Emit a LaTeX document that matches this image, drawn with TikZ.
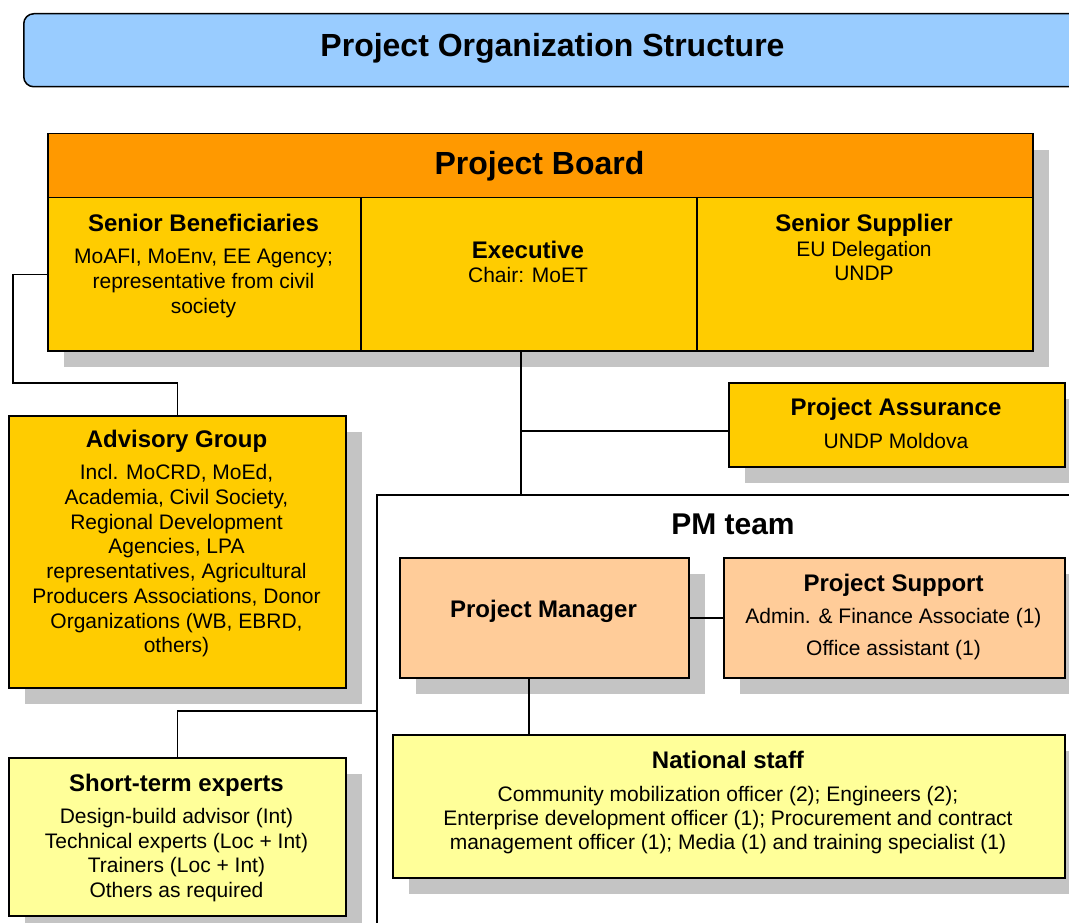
\documentclass[tikz,border=0pt]{standalone}
\usepackage{fontspec}
\setmainfont{Liberation Sans}
\usetikzlibrary{shadows}

\definecolor{titleblue}{HTML}{99CCFF}
\definecolor{boardorange}{HTML}{FF9900}
\definecolor{gold}{HTML}{FFCC00}
\definecolor{peach}{HTML}{FFCC99}
\definecolor{paleyellow}{HTML}{FFFF99}
\definecolor{shadowgray}{HTML}{C4C4C4}

\tikzset{
  box/.style={draw, line width=1.5pt, inner sep=0pt, anchor=north west},
  shadowed/.style={drop shadow={shadow xshift=16pt, shadow yshift=-16pt, fill=shadowgray, opacity=1}},
  big/.style={font=\fontsize{32}{38}\selectfont\bfseries, inner sep=0pt, anchor=north},
  head/.style={font=\fontsize{24}{28}\selectfont\bfseries, inner sep=0pt, anchor=north},
  body/.style={font=\fontsize{21}{24.5}\selectfont, align=center, inner sep=0pt, anchor=north},
  link/.style={line width=1.5pt}
}

\begin{document}
\begin{tikzpicture}[x=1pt, y=-1pt]
\useasboundingbox (0,0) rectangle (1069,923);
\clip (0,0) rectangle (1069,923);

\node[box, fill=titleblue, rounded corners=10pt, minimum width=1080pt, minimum height=73pt] (title) at (23,13) {};
\node[big] (titleT) at (552.5,33.5) {Project Organization Structure};

\node[box, shadowed, fill=gold, minimum width=985pt, minimum height=217pt] (board) at (47,133) {};
\node[box, fill=boardorange, minimum width=985pt, minimum height=64pt] (hdr) at (47,133) {};
\node[big] (hdrT) at (539.5,151.5) {Project Board};
\node[box, fill=gold, minimum width=313pt, minimum height=153pt] (sb) at (47,197) {};
\node[box, fill=gold, minimum width=336pt, minimum height=153pt] (ex) at (360,197) {};
\node[box, fill=gold, minimum width=336pt, minimum height=153pt] (ss) at (696,197) {};
\node[head] (sbT) at (203.5,214.3) {Senior Beneficiaries};
\node[body, font=\fontsize{21}{25}\selectfont] (sbB) at (203.5,248.4) {MoAFI, MoEnv, EE Agency;\\ representative from civil\\ society};
\node[head] (exT) at (528,241.3) {Executive};
\node[body] (exB) at (528,267.4) {Chair: MoET};
\node[head] (ssT) at (864,214.3) {Senior Supplier};
\node[body, font=\fontsize{21}{23.5}\selectfont] (ssB) at (864,241.4) {EU Delegation\\ UNDP};

\node[box, shadowed, fill=gold, minimum width=337pt, minimum height=272pt] (adv) at (8,415) {};
\node[head] (advT) at (176.5,430.3) {Advisory Group};
\node[body, font=\fontsize{21}{24.7}\selectfont] (advB) at (176.5,464.4) {Incl. MoCRD, MoEd,\\ Academia, Civil Society,\\ Regional Development\\ Agencies, LPA\\ representatives, Agricultural\\ Producers Associations, Donor\\ Organizations (WB, EBRD,\\ others)};

\node[box, shadowed, fill=gold, minimum width=336pt, minimum height=84pt] (pa) at (728,382) {};
\node[head] (paT) at (896,398.3) {Project Assurance};
\node[body] (paB) at (896,433.4) {UNDP Moldova};

\node[box, fill=white, minimum width=720pt, minimum height=460pt] (pmteam) at (376,494) {};
\node[big, font=\fontsize{30}{36}\selectfont\bfseries] (pmteamT) at (733,514) {PM team};

\node[box, shadowed, fill=peach, minimum width=289pt, minimum height=120pt] (pm) at (399,557) {};
\node[head] (pmT) at (543.5,600.3) {Project Manager};
\node[box, shadowed, fill=peach, minimum width=341pt, minimum height=120pt] (ps) at (723,557) {};
\node[head] (psT) at (893.5,574.3) {Project Support};
\node[body, font=\fontsize{21}{32}\selectfont] (psB) at (893.5,608.4) {Admin. \& Finance Associate (1)\\ Office assistant (1)};

\node[box, shadowed, fill=paleyellow, minimum width=672pt, minimum height=143pt] (ns) at (392,734) {};
\node[head] (nsT) at (728,751.3) {National staff};
\node[body, font=\fontsize{21}{24}\selectfont] (nsB) at (728,786.4) {Community mobilization officer (2); Engineers (2);\\ Enterprise development officer (1); Procurement and contract\\ management officer (1); Media (1) and training specialist (1)};

\node[box, shadowed, fill=paleyellow, minimum width=337pt, minimum height=158pt] (st) at (8,757) {};
\node[head] (stT) at (176.5,774.3) {Short-term experts};
\node[body] (stB) at (176.5,808.4) {Design-build advisor (Int)\\ Technical experts (Loc + Int)\\ Trainers (Loc + Int)\\ Others as required};

\coordinate (sbturn) at (13,383);
\coordinate (pajoin) at (520,431);
\coordinate (stjoin) at (376,711);
\draw[link] (sb.west) -| (sbturn) -| (adv.north);
\draw[link] ([xshift=-8pt]ex.south) -- ([xshift=-8pt]ex.south |- pmteam.north);
\draw[link] (pajoin) -- (pajoin -| pa.west);
\draw[link] (stjoin) -| (st.north);
\draw[link] (pm.east) -- (ps.west);
\draw[link] ([xshift=-15.5pt]pm.south) -- ([xshift=-15.5pt]pm.south |- ns.north);
\end{tikzpicture}
\end{document}
